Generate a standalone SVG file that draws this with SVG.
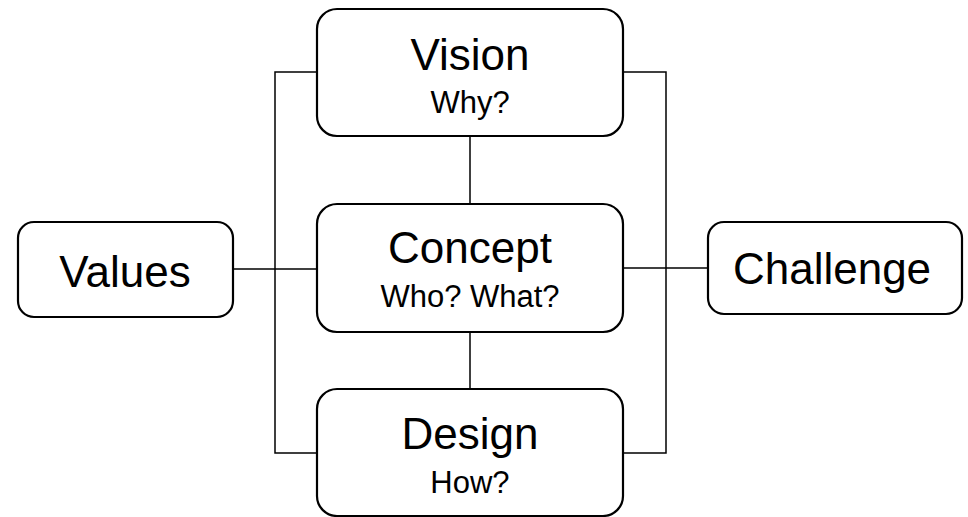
<svg xmlns="http://www.w3.org/2000/svg" width="968" height="517" viewBox="0 0 968 517">
<style>
.box{fill:#fff;stroke:#000;stroke-width:2.2}
.ln{fill:none;stroke:#000;stroke-width:1.5}
.t1{font-family:"Liberation Sans",Arial,sans-serif;font-size:44px;fill:#000;text-anchor:middle}
.t2{font-family:"Liberation Sans",Arial,sans-serif;font-size:31px;fill:#000;text-anchor:middle}
</style>
<rect width="968" height="517" fill="#fff"/>
<g id="connectors">
<polyline class="ln" points="317,72 275,72 275,453 317,453"/>
<polyline class="ln" points="623,72 666,72 666,453 623,453"/>
<line class="ln" x1="470" y1="136" x2="470" y2="204"/>
<line class="ln" x1="470" y1="332" x2="470" y2="389"/>
<line class="ln" x1="233" y1="269" x2="317" y2="269"/>
<line class="ln" x1="623" y1="268" x2="708" y2="268"/>
</g>
<g id="vision">
<rect class="box" x="317" y="9" width="306" height="127" rx="20"/>
<text class="t1" x="470" y="70">Vision</text>
<text class="t2" x="470" y="113">Why?</text>
</g>
<g id="concept">
<rect class="box" x="317" y="204" width="306" height="128" rx="20"/>
<text class="t1" x="470" y="263">Concept</text>
<text class="t2" x="470" y="307">Who? What?</text>
</g>
<g id="design">
<rect class="box" x="317" y="389" width="306" height="127" rx="20"/>
<text class="t1" x="470" y="449">Design</text>
<text class="t2" x="470" y="493">How?</text>
</g>
<g id="values">
<rect class="box" x="18" y="222" width="215" height="95" rx="16"/>
<text class="t1" x="125" y="287">Values</text>
</g>
<g id="challenge">
<rect class="box" x="708" y="222" width="254" height="92" rx="16"/>
<text class="t1" x="832" y="284">Challenge</text>
</g>
</svg>
